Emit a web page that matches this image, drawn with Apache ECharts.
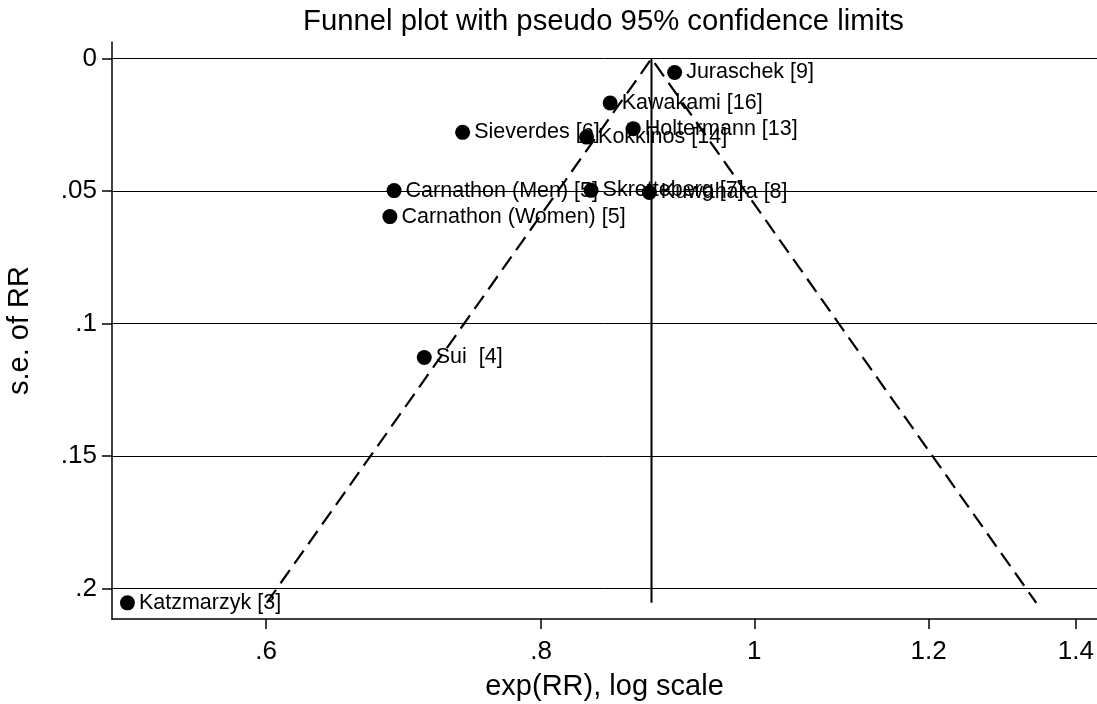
<!DOCTYPE html>
<html>
<head>
<meta charset="utf-8">
<script src="https://cdn.jsdelivr.net/npm/echarts@6/dist/echarts.min.js"></script>
<style>
  html, body { margin: 0; padding: 0; background: #fff; }
  #main { width: 1097px; height: 704px; }
</style>
</head>
<body>
<div id="main"></div>
<script>
// studies, relative risk and its standard error
var studies = ['Juraschek [9]', 'Kawakami [16]', 'Holtermann [13]', 'Sieverdes [6]', 'Kokkinos [14]',
  'Carnathon (Men) [5]', 'Carnathon (Women) [5]', 'Skretteberg [7]', 'Kuwahara [8]', 'Sui  [4]', 'Katzmarzyk [3]'];
var rr = [0.920, 0.860, 0.881, 0.737, 0.839, 0.686, 0.683, 0.843, 0.896, 0.708, 0.519];
var se = [0.0052, 0.0167, 0.0264, 0.0278, 0.0296, 0.0498, 0.0596, 0.0497, 0.0505, 0.1128, 0.2054];
var pooled = 0.898;

var xTickValues = [0.6, 0.8, 1, 1.2, 1.4];
var xTickLabels = ['.6', '.8', '1', '1.2', '1.4'];
var yTickValues = [0, 0.05, 0.1, 0.15, 0.2];
var yTickLabels = ['0', '.05', '.1', '.15', '.2'];

var font = "'Liberation Sans', Arial, sans-serif";

var points = studies.map(function (name, i) {
  return { value: [Math.log(rr[i]), se[i]], name: name };
});

// pseudo 95% limits
var theta = Math.log(pooled);
var seMax = Math.max.apply(null, se);
var funnel = [[theta - 1.96 * seMax, seMax], [theta, 0], [theta + 1.96 * seMax, seMax]];
var centre = [[theta, 0], [theta, seMax]];

function pick(values, labels, v, useLog) {
  for (var i = 0; i < values.length; i++) {
    var t = useLog ? Math.log(values[i]) : values[i];
    if (Math.abs(t - v) < 1e-6) return labels[i];
  }
  return '';
}

var chart = echarts.init(document.getElementById('main'));
chart.setOption({
  animation: false,
  backgroundColor: '#fff',
  title: {
    text: 'Funnel plot with pseudo 95% confidence limits',
    left: 298,
    top: 2,
    textStyle: { fontFamily: font, fontSize: 29.3, fontWeight: 'normal', color: '#000' }
  },
  grid: { left: 112, right: 0, top: 42, bottom: 85, outerBoundsMode: 'none' },
  xAxis: {
    type: 'value',
    min: -0.672,
    max: 0.3585,
    name: 'exp(RR), log scale',
    nameLocation: 'middle',
    nameGap: 53,
    nameTextStyle: { fontFamily: font, fontSize: 29, color: '#000' },
    axisLine: { onZero: false, lineStyle: { color: '#000', width: 1.5 } },
    axisTick: {
      customValues: xTickValues.map(function (v) { return Math.log(v); }),
      length: 10,
      lineStyle: { color: '#000', width: 1.5 }
    },
    axisLabel: {
      customValues: xTickValues.map(function (v) { return Math.log(v); }),
      margin: 20,
      fontFamily: font,
      fontSize: 26,
      color: '#000',
      formatter: function (v) { return pick(xTickValues, xTickLabels, v, true); }
    },
    splitLine: { show: false }
  },
  yAxis: {
    type: 'value',
    inverse: true,
    min: -0.0063,
    max: 0.2115,
    name: 's.e. of RR',
    nameLocation: 'middle',
    nameGap: 78,
    nameTextStyle: { fontFamily: font, fontSize: 29, color: '#000' },
    axisLine: { onZero: false, lineStyle: { color: '#000', width: 1.5 } },
    axisTick: {
      customValues: yTickValues,
      length: 10,
      lineStyle: { color: '#000', width: 1.5 }
    },
    axisLabel: {
      customValues: yTickValues,
      margin: 15,
      fontFamily: font,
      fontSize: 26,
      color: '#000',
      formatter: function (v) { return pick(yTickValues, yTickLabels, v, false); }
    },
    splitLine: { show: true, lineStyle: { color: '#000', width: 1 } }
  },
  series: [
    {
      type: 'line',
      data: funnel,
      symbol: 'none',
      lineStyle: { color: '#000', width: 2.2, type: [16, 8] },
      z: 2
    },
    {
      type: 'line',
      data: centre,
      symbol: 'none',
      lineStyle: { color: '#000', width: 2 },
      z: 2
    },
    {
      type: 'scatter',
      data: points,
      symbol: 'circle',
      symbolSize: 15,
      itemStyle: { color: '#000', opacity: 1 },
      label: {
        show: true,
        position: 'right',
        distance: 4,
        formatter: '{b}',
        fontFamily: font,
        fontSize: 21.5,
        color: '#000'
      },
      z: 3
    }
  ]
});
</script>
</body>
</html>
